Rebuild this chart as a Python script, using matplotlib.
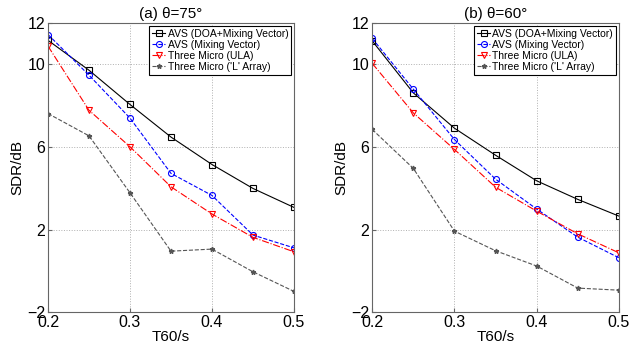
import matplotlib
matplotlib.use("Agg")
import matplotlib.pyplot as plt

plt.rcParams['font.family'] = ['Liberation Sans', 'DejaVu Sans']

t60 = [0.2, 0.25, 0.3, 0.35, 0.4, 0.45, 0.5]
labels = ["AVS (DOA+Mixing Vector)", "AVS (Mixing Vector)", "Three Micro (ULA)", "Three Micro ('L' Array)"]
titles = ["(a) θ=75°", "(b) θ=60°"]

a_doa = [11.17, 9.72, 8.06, 6.48, 5.15, 3.99, 3.07]
a_mix = [11.45, 9.48, 7.40, 4.72, 3.65, 1.73, 1.11]
a_ula = [10.89, 7.78, 6.01, 4.07, 2.75, 1.62, 0.92]
a_l = [7.62, 6.54, 3.78, 0.95, 1.05, -0.05, -1.00]

b_doa = [11.14, 8.62, 6.91, 5.60, 4.36, 3.46, 2.65]
b_mix = [11.26, 8.80, 6.36, 4.44, 2.99, 1.63, 0.63]
b_ula = [10.05, 7.65, 5.88, 4.05, 2.89, 1.79, 0.87]
b_l = [6.85, 4.96, 1.92, 0.97, 0.23, -0.84, -0.94]

yticks = [-2, 2, 6, 10, 12]
xticks = [0.2, 0.3, 0.4, 0.5]

styles = [
    dict(color='black', linestyle='-', marker='s', markersize=3.8, markerfacecolor='none', lw=0.8, mew=0.8),
    dict(color='blue', linestyle='--', marker='o', markersize=4.3, markerfacecolor='none', lw=0.8, mew=0.8),
    dict(color='red', linestyle='-.', marker='v', markersize=5, markerfacecolor='none', lw=0.8, mew=0.8),
    dict(color='#555555', linestyle='--', marker='*', markersize=3.5, lw=0.8),
]

fig = plt.figure(figsize=(6.44, 3.51), dpi=100)
positions = [[0.0745, 0.111, 0.382, 0.823], [0.578, 0.111, 0.383, 0.823]]
data = [[a_doa, a_mix, a_ula, a_l], [b_doa, b_mix, b_ula, b_l]]

for pos, series, title in zip(positions, data, titles):
    ax = fig.add_axes(pos)
    for vals, st, lab in zip(series, styles, labels):
        ax.plot(t60, vals, label=lab, **st)
    ax.set_xlim(0.2, 0.5)
    ax.set_ylim(-2, 12)
    ax.set_xticks(xticks)
    ax.set_xticklabels(['0.2', '0.3', '0.4', '0.5'])
    ax.set_yticks(yticks)
    ax.set_yticklabels(['−2', '2', '6', '10', '12'])
    ax.grid(True, linestyle=':', color='#b0b0b0', lw=0.7)
    ax.tick_params(labelsize=11.5, direction='in', length=3, color='#666666', pad=2)
    for sp in ax.spines.values():
        sp.set_color('#666666')
        sp.set_linewidth(0.8)
    ax.set_xlabel('T60/s', fontsize=11, labelpad=0)
    ax.set_ylabel('SDR/dB', fontsize=11, labelpad=2)
    ax.set_title(title, fontsize=11, pad=4)
    leg = ax.legend(loc='upper right', fontsize=7.5, handlelength=1.3, handletextpad=0.2,
                    borderpad=0.25, labelspacing=0.1, borderaxespad=0.3, fancybox=False,
                    framealpha=1)
    leg.get_frame().set_edgecolor('black')
    leg.get_frame().set_linewidth(0.8)

fig.savefig('out.png', dpi=100)
